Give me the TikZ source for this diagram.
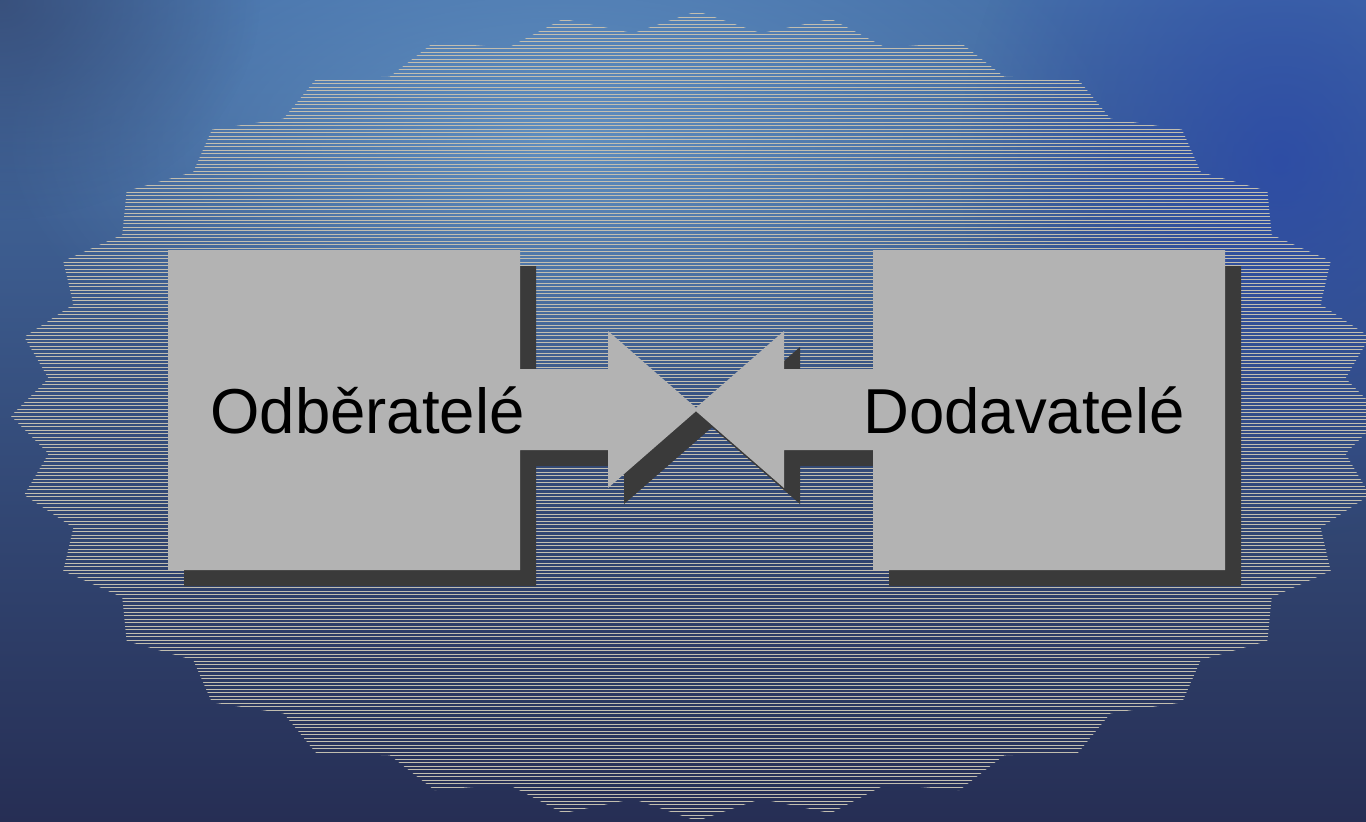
\documentclass[tikz,border=0pt]{standalone}
\usepackage{fontspec}
\setmainfont{Liberation Sans}
\usetikzlibrary{fadings}
\tikzfading[name=softspot, inner color=transparent!0, outer color=transparent!100]
\definecolor{bgtop}{HTML}{4670A8}
\definecolor{bgmid}{HTML}{3A5A90}
\definecolor{bgbot}{HTML}{262E54}
\definecolor{bglight}{HTML}{6A9CCC}
\definecolor{bgblue}{HTML}{2A48A8}
\definecolor{bgdark}{HTML}{303C60}
\definecolor{hatchc}{HTML}{C2BEB0}
\definecolor{boxgray}{HTML}{B3B3B3}
\definecolor{shadowc}{HTML}{3A3A3A}
\newcommand{\lblockpath}{(168,250) -- (520,250) -- (520,369) -- (608,369) -- (608,331) -- (698,409.5) -- (608,488) -- (608,450) -- (520,450) -- (520,570) -- (168,570) -- cycle}
\newcommand{\rblockpath}{(1225,250) -- (873,250) -- (873,369) -- (784,369) -- (784,331) -- (694,409.5) -- (784,488) -- (784,450) -- (873,450) -- (873,570) -- (1225,570) -- cycle}
\begin{document}
\begin{tikzpicture}[x=1pt,y=-1pt,
  hatch/.style={draw=hatchc, line width=0.95pt},
  blockfill/.style={fill=boxgray},
  blockshadow/.style={fill=shadowc, shift={(16,16)}},
  label/.style={inner sep=0pt, font=\fontsize{63.5}{76}\selectfont, text=black}]
\useasboundingbox (0,0) rectangle (1366,822);
% background
\shade[top color=bgtop, middle color=bgmid, bottom color=bgbot] (0,0) rectangle (1366,822);
\fill[color=bglight, path fading=softspot, opacity=0.75] (560,140) ellipse (560 and 280);
\fill[color=bgblue, path fading=softspot, opacity=0.8] (1280,160) ellipse (320 and 380);
\fill[color=bgdark, path fading=softspot, opacity=0.6] (0,0) ellipse (260 and 220);
% starburst with horizontal hatching
\begin{scope}
\clip (1383,416) \foreach \k in {0,...,31} {
  -- ({697+0.95*686*cos(\k*11.25+5.625)},{416-0.95*405*sin(\k*11.25+5.625)})
  -- ({697+686*cos((\k+1)*11.25)},{416-405*sin((\k+1)*11.25)}) } -- cycle;
\foreach \i in {0,...,236} { \draw[hatch] (0,{10+3.5*\i}) -- (1366,{10+3.5*\i}); }
\end{scope}
% shadows
\fill[blockshadow] \lblockpath;
\fill[blockshadow] \rblockpath;
% blocks
\fill[blockfill] \lblockpath;
\fill[blockfill] \rblockpath;
% labels
\node[label] (odb) at (367.5,410) {Odběratelé};
\node[label] (dod) at (1024,410) {Dodavatelé};
\end{tikzpicture}
\end{document}
